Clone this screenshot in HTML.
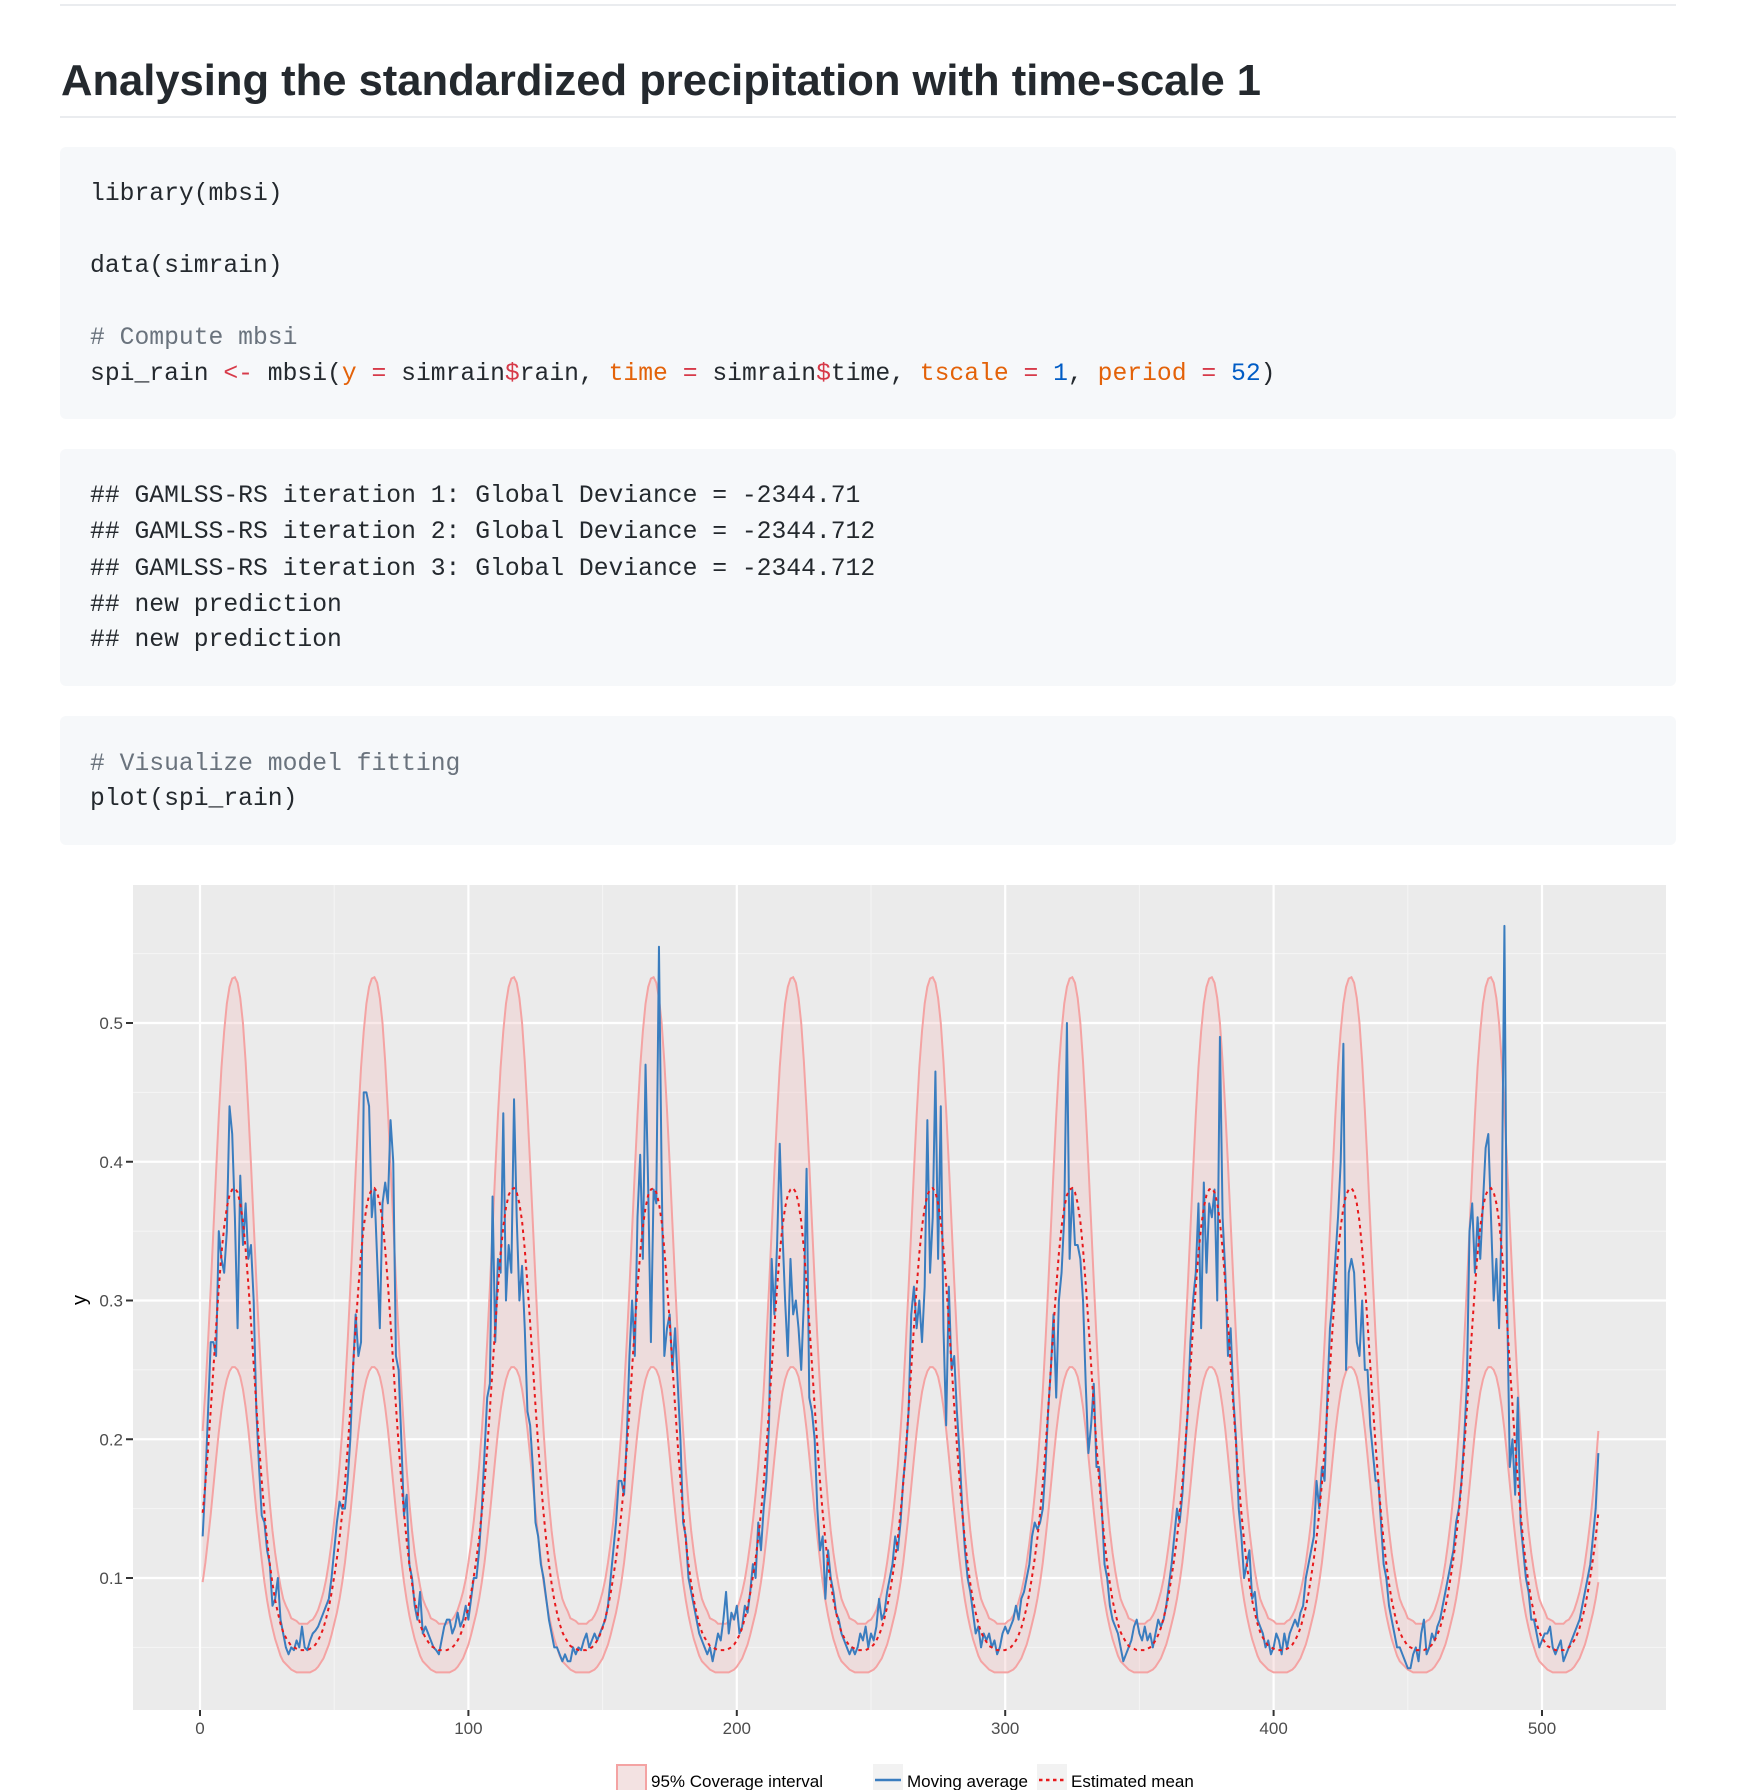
<!DOCTYPE html>
<html><head><meta charset="utf-8">
<style>
html,body{margin:0;padding:0;background:#fff;}
svg{display:block;}
.code{font-family:"Liberation Mono",monospace;font-size:24.7px;fill:#24292e;white-space:pre;}
.cm{fill:#6a737d}.op{fill:#d73a49}.ar{fill:#e36209}.nu{fill:#005cc5}
.tick{font-family:"Liberation Sans",sans-serif;font-size:17px;fill:#4d4d4d;}
.leg{font-family:"Liberation Sans",sans-serif;font-size:17px;fill:#000;}
</style></head>
<body>
<svg id="page" width="1754" height="1790" viewBox="0 0 1754 1790" xmlns="http://www.w3.org/2000/svg">
<rect x="60" y="4" width="1616" height="2" fill="#eaecef"/>
<text x="61" y="95" font-family="Liberation Sans, sans-serif" font-weight="bold" font-size="44" fill="#24292e" textLength="1200" lengthAdjust="spacingAndGlyphs">Analysing the standardized precipitation with time-scale 1</text>
<rect x="60" y="116" width="1616" height="2" fill="#eaecef"/>

<g>
<rect x="60" y="147" width="1616" height="272" rx="6" fill="#f6f8fa"/>
<text class="code" x="90" y="200">library(mbsi)</text>
<text class="code" x="90" y="272">data(simrain)</text>
<text class="code cm" x="90" y="344"># Compute mbsi</text>
<text class="code" x="90" y="380">spi_rain <tspan class="op">&lt;-</tspan> mbsi(<tspan class="ar">y</tspan> <tspan class="op">=</tspan> simrain<tspan class="op">$</tspan>rain, <tspan class="ar">time</tspan> <tspan class="op">=</tspan> simrain<tspan class="op">$</tspan>time, <tspan class="ar">tscale</tspan> <tspan class="op">=</tspan> <tspan class="nu">1</tspan>, <tspan class="ar">period</tspan> <tspan class="op">=</tspan> <tspan class="nu">52</tspan>)</text>
</g>

<g>
<rect x="60" y="449" width="1616" height="237" rx="6" fill="#f6f8fa"/>
<text class="code" x="90" y="502">## GAMLSS-RS iteration 1: Global Deviance = -2344.71</text>
<text class="code" x="90" y="538">## GAMLSS-RS iteration 2: Global Deviance = -2344.712</text>
<text class="code" x="90" y="575">## GAMLSS-RS iteration 3: Global Deviance = -2344.712</text>
<text class="code" x="90" y="611">## new prediction</text>
<text class="code" x="90" y="646">## new prediction</text>
</g>

<g>
<rect x="60" y="716" width="1616" height="129" rx="6" fill="#f6f8fa"/>
<text class="code cm" x="90" y="770"># Visualize model fitting</text>
<text class="code" x="90" y="805">plot(spi_rain)</text>
</g>

<g id="chart"></g>
</svg>
<script>
// Estimated seasonal cycle (52 weeks)
const meanCycle = [0.147,0.168,0.193,0.221,0.251,0.281,0.309,0.334,0.353,0.367,0.376,0.380,0.381,0.378,0.370,0.357,0.337,0.312,0.284,0.254,0.224,0.196,0.170,0.147,0.127,0.110,0.096,0.084,0.075,0.067,0.061,0.057,0.054,0.051,0.050,0.049,0.048,0.048,0.048,0.048,0.049,0.050,0.052,0.055,0.059,0.064,0.071,0.079,0.089,0.101,0.114,0.129];
const upperCycle = [0.206,0.235,0.270,0.309,0.351,0.393,0.433,0.468,0.494,0.514,0.526,0.532,0.533,0.529,0.518,0.500,0.472,0.437,0.398,0.356,0.314,0.274,0.238,0.206,0.178,0.154,0.134,0.118,0.105,0.094,0.085,0.080,0.076,0.071,0.070,0.069,0.067,0.067,0.067,0.067,0.069,0.070,0.073,0.077,0.083,0.090,0.099,0.111,0.125,0.141,0.160,0.181];
const lowerCycle = [0.097,0.111,0.128,0.146,0.166,0.186,0.205,0.221,0.234,0.243,0.249,0.252,0.252,0.250,0.245,0.236,0.223,0.207,0.188,0.168,0.148,0.130,0.113,0.097,0.084,0.073,0.064,0.056,0.050,0.044,0.040,0.038,0.036,0.034,0.033,0.032,0.032,0.032,0.032,0.032,0.032,0.033,0.034,0.036,0.039,0.042,0.047,0.052,0.059,0.067,0.075,0.085];
// Moving average, t = 1..521
const movingAvg = [
0.13,0.17,0.22,0.27,0.27,0.26,0.35,0.33,0.32,0.35,0.44,0.42,0.36,0.28,0.39,0.34,0.37,0.33,0.34,0.30,0.22,0.18,0.145,0.14,0.12,0.11,0.08,0.085,0.10,0.07,0.06,0.05,0.045,0.05,0.048,0.055,0.05,0.065,0.05,0.048,0.055,0.06,0.062,0.065,0.07,0.075,0.08,0.085,0.10,0.12,0.14,0.155,
0.15,0.15,0.17,0.20,0.25,0.29,0.26,0.27,0.45,0.45,0.44,0.36,0.38,0.33,0.28,0.37,0.385,0.37,0.43,0.40,0.26,0.25,0.20,0.145,0.16,0.11,0.10,0.08,0.07,0.09,0.06,0.065,0.06,0.055,0.05,0.048,0.045,0.055,0.065,0.07,0.07,0.06,0.065,0.075,0.065,0.07,0.08,0.07,0.085,0.10,0.10,0.12,
0.15,0.19,0.23,0.24,0.375,0.27,0.33,0.32,0.435,0.30,0.34,0.32,0.445,0.36,0.30,0.325,0.28,0.22,0.21,0.18,0.14,0.13,0.11,0.10,0.085,0.07,0.06,0.05,0.05,0.045,0.04,0.045,0.04,0.04,0.05,0.045,0.05,0.048,0.055,0.06,0.05,0.055,0.06,0.055,0.06,0.065,0.07,0.08,0.10,0.12,0.14,0.17,
0.17,0.16,0.20,0.26,0.30,0.26,0.36,0.405,0.33,0.47,0.38,0.27,0.38,0.37,0.555,0.39,0.26,0.28,0.29,0.25,0.28,0.24,0.20,0.14,0.13,0.10,0.09,0.08,0.07,0.06,0.055,0.05,0.045,0.05,0.04,0.05,0.06,0.055,0.07,0.09,0.06,0.075,0.07,0.08,0.06,0.065,0.08,0.075,0.09,0.11,0.10,0.14,
0.12,0.15,0.17,0.21,0.33,0.29,0.34,0.413,0.35,0.30,0.26,0.33,0.29,0.30,0.28,0.25,0.30,0.395,0.23,0.22,0.20,0.15,0.12,0.13,0.085,0.12,0.10,0.09,0.075,0.07,0.06,0.055,0.05,0.045,0.05,0.045,0.05,0.06,0.055,0.065,0.05,0.06,0.055,0.065,0.085,0.07,0.075,0.09,0.10,0.11,0.13,0.12,
0.14,0.17,0.19,0.22,0.29,0.31,0.28,0.30,0.27,0.31,0.43,0.32,0.36,0.465,0.33,0.44,0.28,0.21,0.31,0.25,0.26,0.22,0.19,0.15,0.12,0.10,0.09,0.075,0.06,0.065,0.05,0.06,0.055,0.06,0.05,0.055,0.045,0.05,0.06,0.065,0.06,0.065,0.07,0.08,0.07,0.085,0.09,0.10,0.11,0.13,0.14,0.135,
0.14,0.15,0.18,0.22,0.25,0.29,0.23,0.30,0.32,0.36,0.50,0.33,0.38,0.34,0.34,0.33,0.30,0.24,0.19,0.21,0.24,0.18,0.18,0.15,0.11,0.10,0.08,0.07,0.065,0.06,0.05,0.04,0.045,0.05,0.055,0.065,0.07,0.06,0.055,0.065,0.055,0.06,0.05,0.06,0.07,0.065,0.07,0.08,0.095,0.11,0.13,0.15,
0.14,0.16,0.19,0.22,0.27,0.30,0.32,0.37,0.28,0.385,0.32,0.37,0.36,0.38,0.30,0.49,0.36,0.32,0.26,0.28,0.23,0.20,0.15,0.13,0.10,0.11,0.12,0.085,0.09,0.07,0.065,0.06,0.05,0.055,0.045,0.05,0.06,0.055,0.045,0.06,0.05,0.06,0.065,0.07,0.065,0.075,0.08,0.10,0.11,0.12,0.13,0.17,
0.15,0.18,0.17,0.23,0.28,0.30,0.33,0.36,0.40,0.485,0.25,0.32,0.33,0.32,0.27,0.26,0.30,0.25,0.25,0.21,0.19,0.17,0.17,0.14,0.11,0.10,0.08,0.07,0.06,0.05,0.05,0.045,0.04,0.035,0.035,0.045,0.05,0.04,0.06,0.07,0.045,0.05,0.06,0.055,0.065,0.07,0.08,0.09,0.10,0.11,0.12,0.14,
0.15,0.17,0.20,0.24,0.35,0.37,0.32,0.36,0.33,0.37,0.41,0.42,0.36,0.30,0.33,0.28,0.36,0.57,0.30,0.18,0.20,0.16,0.23,0.14,0.12,0.10,0.09,0.07,0.07,0.06,0.05,0.055,0.06,0.06,0.065,0.05,0.045,0.05,0.055,0.04,0.045,0.05,0.055,0.06,0.065,0.07,0.08,0.09,0.10,0.11,0.13,0.15,
0.19];
const xTicks = [0,100,200,300,400,500];
const xMinor = [50,150,250,350,450];
const yTicks = [0.1,0.2,0.3,0.4,0.5];
const yTickLabels = ["0.1","0.2","0.3","0.4","0.5"];
const yMinor = [0.05,0.15,0.25,0.35,0.45,0.55];

const NS="http://www.w3.org/2000/svg";
const P={l:133,r:1666,t:885,b:1710};
function sx(t){return 200+t*(1542-200)/500;}
function sy(v){return 1578-(v-0.1)*(1578-1023)/0.4;}
const chart=document.getElementById('chart');
function mk(tag,attrs,parent){const e=document.createElementNS(NS,tag);for(const k in attrs)e.setAttribute(k,attrs[k]);(parent||chart).appendChild(e);return e;}

const bg=mk('rect',{x:P.l,y:P.t,width:P.r-P.l,height:P.b-P.t,fill:'#ebebeb'});


yMinor.forEach(v=>{const l=mk('line',{x1:P.l,x2:P.r,y1:sy(v),y2:sy(v),stroke:'#f5f5f5','stroke-width':1.1});

});
xMinor.forEach(v=>{const l=mk('line',{x1:sx(v),x2:sx(v),y1:P.t,y2:P.b,stroke:'#f5f5f5','stroke-width':1.1});

});
yTicks.forEach(v=>{const l=mk('line',{x1:P.l,x2:P.r,y1:sy(v),y2:sy(v),stroke:'#fff','stroke-width':2.2});

});
xTicks.forEach(v=>{const l=mk('line',{x1:sx(v),x2:sx(v),y1:P.t,y2:P.b,stroke:'#fff','stroke-width':2.2});

});

const N=movingAvg.length;
const ts=[];for(let i=0;i<N;i++)ts.push(i+1);
const up=ts.map(t=>upperCycle[(t-1)%52]), lo=ts.map(t=>lowerCycle[(t-1)%52]), mu=ts.map(t=>meanCycle[(t-1)%52]);
function pts(arr){return arr.map((v,i)=>sx(ts[i]).toFixed(2)+','+sy(v).toFixed(2)).join(' ');}
let bandPts=ts.map((t,i)=>sx(t).toFixed(2)+','+sy(up[i]).toFixed(2));
for(let i=N-1;i>=0;i--)bandPts.push(sx(ts[i]).toFixed(2)+','+sy(lo[i]).toFixed(2));
const band=mk('polygon',{points:bandPts.join(' '),fill:'#f2c6c6','fill-opacity':0.38,stroke:'none'});


const upl=mk('polyline',{points:pts(up),fill:'none',stroke:'#f4a3a3','stroke-width':2});


const lol=mk('polyline',{points:pts(lo),fill:'none',stroke:'#f4a3a3','stroke-width':2});


const ma=mk('polyline',{points:pts(movingAvg),fill:'none',stroke:'#3a7dbf','stroke-width':2,'stroke-linejoin':'round'});


const ml=mk('polyline',{points:pts(mu),fill:'none',stroke:'#e8191c','stroke-width':2,'stroke-dasharray':'3.5,4'});



yTicks.forEach((v,i)=>{
 const tk=mk('line',{x1:P.l-7,x2:P.l,y1:sy(v),y2:sy(v),stroke:'#333','stroke-width':2});
 
 
 const tx=mk('text',{x:P.l-10,y:sy(v)+6,'text-anchor':'end','class':'tick'});tx.textContent=yTickLabels[i];
 
 
});
xTicks.forEach(v=>{
 const tk=mk('line',{x1:sx(v),x2:sx(v),y1:P.b,y2:P.b+6,stroke:'#333','stroke-width':2});
 
 
 const tx=mk('text',{x:sx(v),y:P.b+24,'text-anchor':'middle','class':'tick'});tx.textContent=String(v);
 
 
});
const yl=mk('text',{x:0,y:0,transform:'translate(86,1300) rotate(-90)','text-anchor':'middle','font-family':'Liberation Sans, sans-serif','font-size':20,fill:'#000'});
yl.textContent='y';



// legend
const lg=mk('g',{});


const k1=mk('rect',{x:617,y:1765,width:29,height:30,fill:'#f3e2e2',stroke:'#f4a3a3','stroke-width':2},lg);


const t1=mk('text',{x:651,y:1787,'class':'leg'},lg);t1.textContent='95% Coverage interval';


const k2=mk('rect',{x:873,y:1764,width:30,height:30,fill:'#f2f2f2'},lg);


const k2l=mk('line',{x1:875,x2:901,y1:1780,y2:1780,stroke:'#3a7dbf','stroke-width':2.5},lg);


const t2=mk('text',{x:907,y:1787,'class':'leg'},lg);t2.textContent='Moving average';


const k3=mk('rect',{x:1037,y:1764,width:30,height:30,fill:'#f2f2f2'},lg);


const k3l=mk('line',{x1:1039,x2:1065,y1:1780,y2:1780,stroke:'#e8191c','stroke-width':2.5,'stroke-dasharray':'3.5,3.5'},lg);


const t3=mk('text',{x:1071,y:1787,'class':'leg'},lg);t3.textContent='Estimated mean';


</script>
</body></html>
